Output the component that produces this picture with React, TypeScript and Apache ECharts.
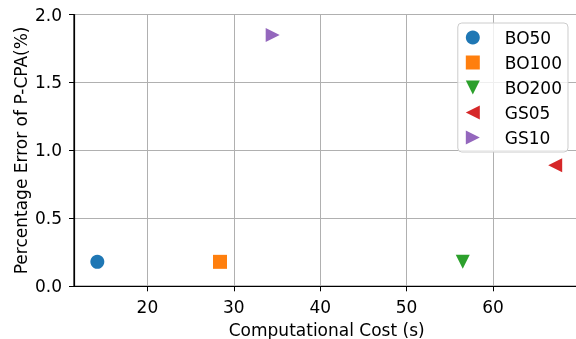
import React, { useEffect, useRef } from "react";
import * as echarts from "echarts";

// Method names shown in the legend
const methods = ["BO50", "BO100", "BO200", "GS05", "GS10"];
// Computational cost in seconds for each method
const costs = [14.2, 28.4, 56.5, 67.2, 34.5];
// Percentage error of P-CPA for each method
const errors = [0.18, 0.18, 0.18, 0.89, 1.85];
// Marker colours (tab10)
const colors = ["#1f77b4", "#ff7f0e", "#2ca02c", "#d62728", "#9467bd"];
// Marker shapes
const symbols = [
  "circle",
  "path://M0,0 L2,0 L2,2 L0,2 Z",
  "path://M0,0 L2,0 L1,2 Z",
  "path://M0,1 L2,0 L2,2 Z",
  "path://M0,0 L2,1 L0,2 Z",
];
const xTicks = [20, 30, 40, 50, 60];

const FONT = "DejaVu Sans";
const FS = 17;

export default function App() {
  const ref = useRef<HTMLDivElement>(null);

  useEffect(() => {
    if (!ref.current) return;
    const chart = echarts.init(ref.current, null, { renderer: "svg" });
    chart.setOption({
      animation: false,
      textStyle: { fontFamily: FONT },
      grid: {
        left: 74,
        right: -3.4,
        top: 14.5,
        bottom: 52.7,
        show: true,
        borderColor: "#000",
        borderWidth: 1.2,
        backgroundColor: "transparent",
        outerBoundsMode: "none",
      },
      xAxis: {
        type: "value",
        min: 11.5,
        max: 70,
        name: "Computational Cost (s)",
        nameLocation: "middle",
        nameGap: 35,
        nameMoveOverlap: false,
        nameTextStyle: { fontSize: FS, color: "#000", fontFamily: FONT },
        axisLine: { show: true, lineStyle: { color: "#000", width: 1.2 } },
        axisTick: {
          show: true,
          length: 5,
          customValues: xTicks,
          lineStyle: { color: "#000", width: 1 },
        },
        axisLabel: {
          customValues: xTicks,
          fontSize: FS,
          color: "#000",
          margin: 12,
          fontFamily: FONT,
        },
        splitLine: { show: true, lineStyle: { color: "#b0b0b0", width: 1 } },
      },
      yAxis: {
        type: "value",
        min: 0,
        max: 2,
        interval: 0.5,
        name: "Percentage Error of P-CPA(%)",
        nameLocation: "middle",
        nameGap: 45,
        nameMoveOverlap: false,
        nameTextStyle: { fontSize: FS, color: "#000", fontFamily: FONT },
        axisLine: { show: true, lineStyle: { color: "#000", width: 1.2 } },
        axisTick: { show: true, length: 5, lineStyle: { color: "#000", width: 1 } },
        axisLabel: {
          fontSize: FS,
          color: "#000",
          margin: 12,
          fontFamily: FONT,
          formatter: (v: number) => v.toFixed(1),
        },
        splitLine: { show: true, lineStyle: { color: "#b0b0b0", width: 1 } },
      },
      legend: {
        orient: "vertical",
        right: 8,
        top: 23,
        padding: [6, 6, 6, 8],
        itemWidth: 28,
        itemHeight: 14,
        itemGap: 8,
        selectedMode: false,
        backgroundColor: "rgba(255,255,255,0.8)",
        borderColor: "#cccccc",
        borderWidth: 1,
        borderRadius: 4,
        textStyle: {
          fontSize: FS,
          color: "#000",
          fontFamily: FONT,
          padding: [0, 0, 0, 13],
        },
        data: methods,
      },
      series: methods.map((m, i) => ({
        name: m,
        type: "scatter",
        symbol: symbols[i],
        symbolSize: 14,
        itemStyle: { color: colors[i], opacity: 1 },
        data: [[costs[i], errors[i]]],
        z: 3,
      })),
    });
    return () => chart.dispose();
  }, []);

  return (
    <div
      ref={ref}
      style={{ position: "fixed", left: 0, top: 0, width: 576, height: 339 }}
    />
  );
}
